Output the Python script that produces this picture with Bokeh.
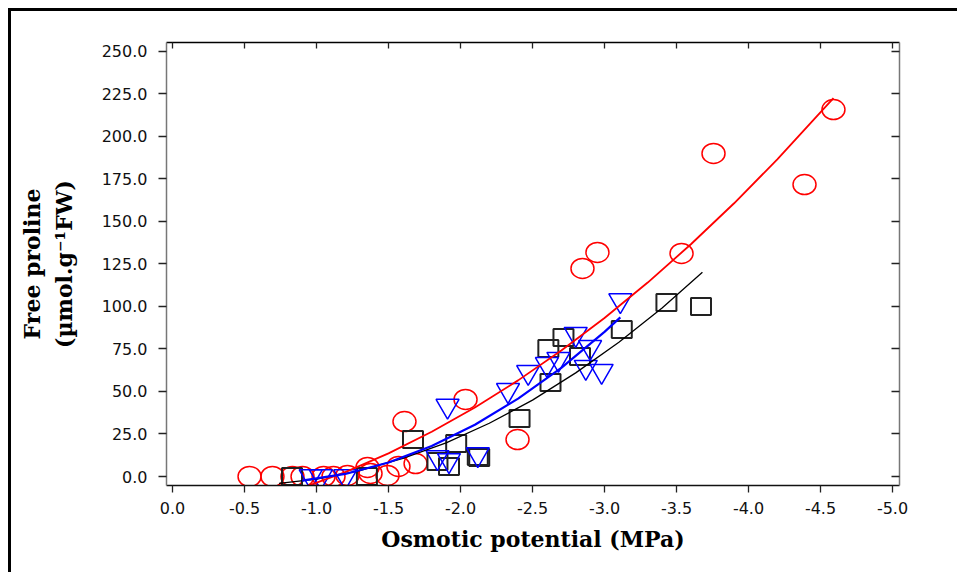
from bokeh.plotting import figure
from bokeh.models import (Range1d, LinearAxis, FixedTicker, NumeralTickFormatter,
                          CustomJSTickFormatter)
from bokeh.embed import file_html
from bokeh.resources import INLINE

# ---- data ----
x_ticks = [0.0, -0.5, -1.0, -1.5, -2.0, -2.5, -3.0, -3.5, -4.0, -4.5, -5.0]
y_ticks = [0, 25, 50, 75, 100, 125, 150, 175, 200, 225, 250]

red_x = [-0.535, -0.694, -0.833, -0.903, -1.049, -1.118, -1.215, -1.354, -1.375, -1.493,
         -1.569, -1.688, -1.611, -2.035, -2.396, -2.847, -2.951, -3.535, -3.757, -4.389, -4.59]
red_y = [0.0, 0.0, 0.0, 0.0, 0.0, 0.0, 0.6, 5.3, 1.8, 0.6,
         5.9, 7.6, 32.3, 45.3, 21.7, 122.3, 131.7, 131.1, 189.9, 171.6, 215.7]

black_x = [-0.83, -1.35, -1.67, -1.97, -1.84, -1.92, -2.12, -2.13, -2.41, -2.625,
           -2.61, -2.715, -2.83, -3.12, -3.43, -3.67]
black_y = [0.0, 0.0, 21.7, 19.4, 8.8, 5.9, 11.8, 11.2, 34.1, 55.3,
           75.2, 81.7, 70.5, 86.4, 102.3, 99.9]

blue_x = [-0.96, -1.03, -1.20, -1.91, -1.84, -1.92, -2.12, -2.33, -2.47, -2.60,
          -2.68, -2.80, -2.90, -2.87, -2.98, -3.11]
blue_y = [0.0, 0.0, 0.0, 41.5, 11.3, 9.5, 13.0, 50.7, 61.3, 66.0,
          69.0, 83.7, 76.0, 64.3, 62.0, 103.5]

# fitted curves
red_fit_x = [-0.94, -1.2, -1.5, -1.8, -2.1, -2.4, -2.7, -3.0, -3.3, -3.6, -3.9, -4.2, -4.59]
red_fit_y = [-5.5, 2.6, 13.6, 26.3, 40.6, 56.5, 74.1, 93.2, 114.0, 136.5, 160.6, 186.4, 222.4]

black_fit_x = [-0.74, -1.0, -1.3, -1.6, -1.9, -2.2, -2.5, -2.8, -3.1, -3.4, -3.68]
black_fit_y = [-4.1, -1.6, 3.4, 10.6, 19.8, 31.3, 44.9, 60.9, 78.9, 99.1, 120.0]

blue_fit_x = [-0.9, -1.2, -1.5, -1.8, -2.1, -2.4, -2.7, -3.0, -3.11]
blue_fit_y = [-2.4, 1.5, 8.2, 17.9, 30.4, 45.8, 63.9, 85.0, 93.5]

x_title = "Osmotic potential (MPa)"
y_title = "Free proline\n(\u00b5mol.g\u207b\u00b9FW)"

# ---- figure ----
p = figure(width=949, height=564, output_backend="svg", toolbar_location=None,
           x_range=Range1d(0.0417, -5.0486), y_range=Range1d(-5.29, 255.1),
           x_axis_location=None, y_axis_location=None,
           min_border_left=155, min_border_right=61, min_border_top=31, min_border_bottom=90,
           background_fill_color="white", border_fill_color="white",
           styles={"border-left": "3px solid black", "border-top": "3px solid black",
                   "margin-left": "8px", "margin-top": "8px"})
p.grid.visible = False
p.outline_line_color = None

tick_font = "DejaVu Sans"
title_font = "DejaVu Serif"


def style_axis(ax, line_color):
    ax.axis_line_color = line_color
    ax.axis_line_width = 1.5
    ax.major_tick_line_color = "#222222"
    ax.major_tick_line_width = 1.3
    ax.minor_tick_in = 0
    ax.minor_tick_out = 0
    ax.major_label_text_font = tick_font
    ax.major_label_text_font_size = "16px"
    ax.major_label_text_color = "#111111"


xb = LinearAxis(ticker=FixedTicker(ticks=x_ticks), formatter=NumeralTickFormatter(format="0.0"),
                axis_label=x_title)
style_axis(xb, "#111111")
xb.major_tick_out = 7
xb.major_tick_in = 0
xb.major_label_standoff = 9
xb.axis_label_standoff = 9
xb.axis_label_text_font = title_font
xb.axis_label_text_font_style = "bold"
xb.axis_label_text_font_size = "22px"
xb.axis_label_text_color = "#000000"
p.add_layout(xb, "below")

xt = LinearAxis(ticker=FixedTicker(ticks=x_ticks), formatter=CustomJSTickFormatter(code="return ''"))
style_axis(xt, "#000000")
xt.major_tick_out = 0
xt.major_tick_in = 6
p.add_layout(xt, "above")

yl = LinearAxis(ticker=FixedTicker(ticks=y_ticks), formatter=NumeralTickFormatter(format="0.0"),
                axis_label=y_title)
style_axis(yl, "#777777")
yl.major_tick_out = 8
yl.major_tick_in = 0
yl.major_label_standoff = 11
yl.axis_label_standoff = 22
yl.axis_label_text_font = title_font
yl.axis_label_text_font_style = "bold"
yl.axis_label_text_font_size = "22px"
yl.axis_label_text_color = "#000000"
p.add_layout(yl, "left")

yr = LinearAxis(ticker=FixedTicker(ticks=y_ticks), formatter=CustomJSTickFormatter(code="return ''"))
style_axis(yr, "#777777")
yr.major_tick_out = 0
yr.major_tick_in = 8
p.add_layout(yr, "right")

# ---- markers ----
p.ellipse(x=red_x, y=red_y, width=23, height=20, width_units="screen", height_units="screen",
          fill_color=None, line_color="#FF0000", line_width=1.5)
p.rect(x=black_x, y=black_y, width=20, height=17, width_units="screen", height_units="screen",
       fill_color=None, line_color="#222222", line_width=2)
p.scatter(x=blue_x, y=blue_y, marker="inverted_triangle", size=23,
          fill_color=None, line_color="#0000FF", line_width=1.5)

# ---- fit lines ----
p.line(black_fit_x, black_fit_y, line_color="#000000", line_width=1.3)
p.line(red_fit_x, red_fit_y, line_color="#FF0000", line_width=1.8)
p.line(blue_fit_x, blue_fit_y, line_color="#0000FF", line_width=2.2)

open("out.html", "w").write(file_html(p, INLINE))
